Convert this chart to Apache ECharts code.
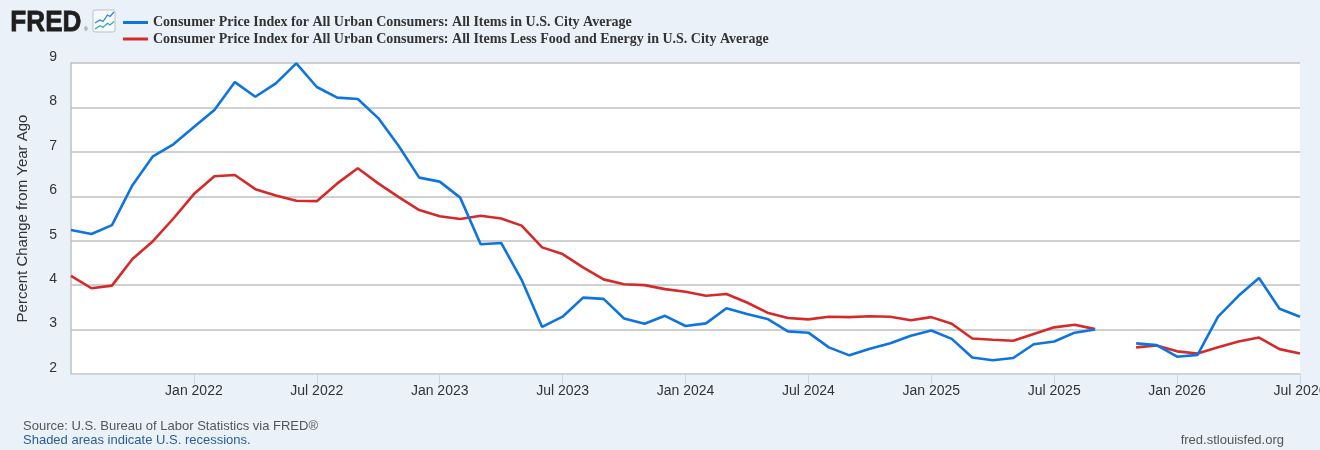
<!DOCTYPE html>
<html>
<head>
<meta charset="utf-8">
<script src="https://cdn.jsdelivr.net/npm/echarts@6/dist/echarts.min.js"></script>
<style>
  html, body { margin: 0; padding: 0; background: #eaf1f9; }
  #chart { width: 1320px; height: 450px; }
</style>
</head>
<body>
<div id="chart"></div>
<script>
// monthly, Jul 2021 .. Jul 2026
var months = [
  'Jul 2021', 'Aug 2021', 'Sep 2021', 'Oct 2021', 'Nov 2021', 'Dec 2021',
  'Jan 2022', 'Feb 2022', 'Mar 2022', 'Apr 2022', 'May 2022', 'Jun 2022',
  'Jul 2022', 'Aug 2022', 'Sep 2022', 'Oct 2022', 'Nov 2022', 'Dec 2022',
  'Jan 2023', 'Feb 2023', 'Mar 2023', 'Apr 2023', 'May 2023', 'Jun 2023',
  'Jul 2023', 'Aug 2023', 'Sep 2023', 'Oct 2023', 'Nov 2023', 'Dec 2023',
  'Jan 2024', 'Feb 2024', 'Mar 2024', 'Apr 2024', 'May 2024', 'Jun 2024',
  'Jul 2024', 'Aug 2024', 'Sep 2024', 'Oct 2024', 'Nov 2024', 'Dec 2024',
  'Jan 2025', 'Feb 2025', 'Mar 2025', 'Apr 2025', 'May 2025', 'Jun 2025',
  'Jul 2025', 'Aug 2025', 'Sep 2025', 'Oct 2025', 'Nov 2025', 'Dec 2025',
  'Jan 2026', 'Feb 2026', 'Mar 2026', 'Apr 2026', 'May 2026', 'Jun 2026',
  'Jul 2026'
];

// All items (Oct 2025 missing)
var cpiAll = [
  5.24, 5.15, 5.35, 6.25, 6.90, 7.17,
  7.56, 7.94, 8.57, 8.24, 8.54, 8.99,
  8.46, 8.22, 8.19, 7.76, 7.13, 6.42,
  6.33, 5.97, 4.92, 4.95, 4.12, 3.06,
  3.29, 3.72, 3.69, 3.25, 3.13, 3.31,
  3.08, 3.14, 3.48, 3.35, 3.24, 2.96,
  2.93, 2.60, 2.42, 2.57, 2.69, 2.86,
  2.98, 2.79, 2.37, 2.31, 2.36, 2.67,
  2.73, 2.93, 3.00, null, 2.69, 2.65,
  2.39, 2.43, 3.29, 3.76, 4.16, 3.47,
  3.29
];

// less food and energy
var cpiCore = [
  4.21, 3.93, 3.99, 4.59, 4.99, 5.50,
  6.05, 6.45, 6.48, 6.16, 6.02, 5.90,
  5.89, 6.29, 6.63, 6.29, 5.98, 5.69,
  5.55, 5.49, 5.56, 5.50, 5.34, 4.85,
  4.70, 4.40, 4.13, 4.02, 4.00, 3.91,
  3.85, 3.76, 3.80, 3.61, 3.38, 3.26,
  3.23, 3.29, 3.28, 3.30, 3.29, 3.21,
  3.28, 3.13, 2.80, 2.77, 2.75, 2.90,
  3.05, 3.11, 3.01, null, 2.60, 2.64,
  2.51, 2.46, 2.60, 2.73, 2.82, 2.56,
  2.46
];

var seriesNames = [
  'Consumer Price Index for All Urban Consumers: All Items in U.S. City Average',
  'Consumer Price Index for All Urban Consumers: All Items Less Food and Energy in U.S. City Average'
];

var yTicks = [2, 3, 4, 5, 6, 7, 8, 9];

// only Jan / Jul get a tick and label, skip the first one (sits on the axis corner)
function halfYear(idx, value) {
  if (idx === 0) return false;
  return value.indexOf('Jan') === 0 || value.indexOf('Jul') === 0;
}

var chart = echarts.init(document.getElementById('chart'), null, { renderer: 'canvas' });

var option = {
  backgroundColor: '#eaf1f9',
  animation: false,
  color: ['#0d74e0', '#d62a2a'],
  grid: {
    left: 71,
    right: 20,
    top: 63,
    bottom: 76,
    outerBoundsMode: 'none',
    containLabel: false,
    show: true,
    backgroundColor: '#fff',
    borderWidth: 0
  },
  legend: {
    orient: 'vertical',
    left: 123,
    top: 15,
    padding: 0,
    itemWidth: 25,
    itemHeight: 3,
    itemGap: 1.5,
    icon: 'rect',
    data: seriesNames,
    textStyle: {
      fontFamily: 'Liberation Serif',
      fontWeight: 'bold',
      fontSize: 14,
      lineHeight: 15,
      color: '#333'
    }
  },
  xAxis: {
    type: 'category',
    data: months,
    boundaryGap: false,
    axisLine: { lineStyle: { color: '#ccd6eb', width: 1 } },
    axisTick: {
      show: true,
      length: 10,
      interval: halfYear,
      lineStyle: { color: '#ccd6eb' }
    },
    axisLabel: {
      interval: halfYear,
      margin: 10,
      hideOverlap: false,
      fontFamily: 'Liberation Sans',
      fontSize: 14,
      color: '#333'
    },
    splitLine: { show: false }
  },
  yAxis: {
    type: 'value',
    min: yTicks[0],
    max: yTicks[yTicks.length - 1],
    interval: 1,
    name: 'Percent Change from Year Ago',
    nameLocation: 'middle',
    nameGap: 41,
    nameTextStyle: {
      fontFamily: 'Liberation Sans',
      fontSize: 15,
      color: '#333'
    },
    axisLine: { show: true, lineStyle: { color: '#c0c0c0', width: 1.5 } },
    axisTick: { show: false },
    axisLabel: {
      margin: 14,
      verticalAlign: 'bottom',
      lineHeight: 12,
      fontFamily: 'Liberation Sans',
      fontSize: 14,
      color: '#333'
    },
    splitLine: { lineStyle: { color: '#c0c0c0', width: 1.5 } }
  },
  series: [
    {
      name: seriesNames[0],
      type: 'line',
      data: cpiAll,
      showSymbol: false,
      connectNulls: false,
      lineStyle: { width: 2.6 },
      z: 3
    },
    {
      name: seriesNames[1],
      type: 'line',
      data: cpiCore,
      showSymbol: false,
      connectNulls: false,
      lineStyle: { width: 2.6 },
      z: 2
    }
  ],
  graphic: [
    {
      type: 'text',
      left: 10,
      top: 8,
      scaleX: 0.9,
      style: {
        text: 'FRED',
        fontFamily: 'Liberation Sans',
        fontWeight: 'bold',
        fontSize: 29,
        fill: '#1e1e1e',
        stroke: '#1e1e1e',
        lineWidth: 0.8
      }
    },
    {
      type: 'text',
      left: 84,
      top: 27,
      style: { text: '®', fontSize: 5, fill: '#555', fontFamily: 'Liberation Sans' }
    },
    {
      type: 'rect',
      shape: { x: 93, y: 10, width: 22, height: 22, r: 2 },
      style: { fill: '#f7fafd', stroke: '#b9c1c9', lineWidth: 1 }
    },
    {
      type: 'polyline',
      shape: { points: [[95, 23], [100, 20], [103, 21.5], [107.5, 15], [110, 16.5], [114, 12]] },
      style: { stroke: '#2d7fe0', lineWidth: 1.3, fill: null }
    },
    {
      type: 'polyline',
      shape: { points: [[95, 29], [100, 25.7], [103, 27.3], [107.5, 23.3], [110, 25], [114, 21.5]] },
      style: { stroke: '#3aae92', lineWidth: 1.3, fill: null }
    },
    {
      type: 'text',
      left: 23,
      top: 420,
      style: {
        text: 'Source: U.S. Bureau of Labor Statistics via FRED®',
        fontFamily: 'Liberation Sans',
        fontSize: 13,
        fill: '#555'
      }
    },
    {
      type: 'text',
      left: 23,
      top: 434,
      style: {
        text: 'Shaded areas indicate U.S. recessions.',
        fontFamily: 'Liberation Sans',
        fontSize: 13,
        fill: '#2b5c9c'
      }
    },
    {
      type: 'text',
      right: 36,
      top: 434,
      style: {
        text: 'fred.stlouisfed.org',
        fontFamily: 'Liberation Sans',
        fontSize: 13,
        fill: '#555'
      }
    }
  ]
};

chart.setOption(option);
</script>
</body>
</html>
